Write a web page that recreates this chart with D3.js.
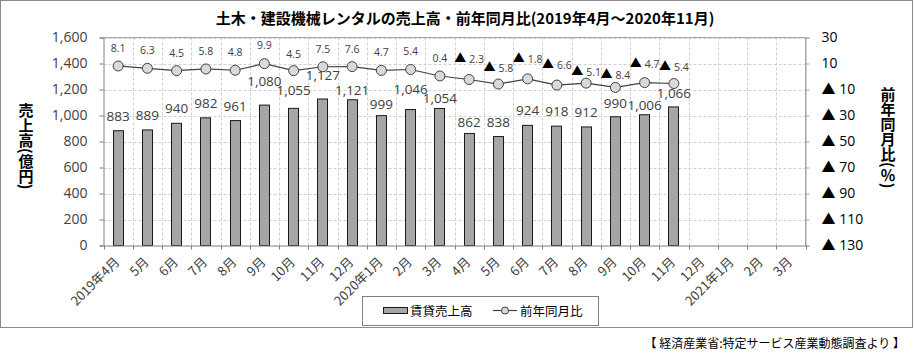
<!DOCTYPE html>
<html>
<head>
<meta charset="utf-8">
<script src="https://cdn.jsdelivr.net/npm/d3@7"></script>
<style>
  html, body { margin: 0; padding: 0; background: #fff; }
  svg { display: block; }
</style>
</head>
<body>
<svg id="chart" width="914" height="357"></svg>
<script>
// ---- data ----
const categories = ["2019年4月","5月","6月","7月","8月","9月","10月","11月","12月","2020年1月","2月","3月","4月","5月","6月","7月","8月","9月","10月","11月","12月","2021年1月","2月","3月"];
const salesValues = [883,889,940,982,961,1080,1055,1127,1121,999,1046,1054,862,838,924,918,912,990,1006,1066];
const yoyValues = [8.1,6.3,4.5,5.8,4.8,9.9,4.5,7.5,7.6,4.7,5.4,0.4,-2.3,-5.8,-1.8,-6.6,-5.1,-8.4,-4.7,-5.4];
const leftTicks = [0,200,400,600,800,1000,1200,1400,1600];
const rightTicks = [30,10,-10,-30,-50,-70,-90,-110,-130];
const titleText = "土木・建設機械レンタルの売上高・前年同月比(2019年4月～2020年11月)";
const leftTitle = "売上高(億円)";
const rightTitle = "前年同月比(％)";
const legendNames = ["賃貸売上高","前年同月比"];
const sourceText = "【 経済産業省:特定サービス産業動態調査より 】";

// ---- label nudges (style only) ----
const barLabelGap = [10,10,10,10,10,19,13,19,5,7,16,5,6,10,10,10,10,9,5,9];
const lineLabelGap = [14,14,14,14,14,15,13,14,14,14,14,14,16,12,16,16,7,8,15,13];

const svg = d3.select("#chart");
const M = {left: 103.5, right: 805.5, top: 37.5, bottom: 245.5};
const textColor = "#404040";
const numFont = "'Open Sans', 'Noto Sans CJK JP', sans-serif";
const jpFont = "'Noto Sans CJK JP', 'Noto Sans', sans-serif";

// outer border
svg.append("rect").attr("x",0.5).attr("y",0.5).attr("width",912).attr("height",327)
  .attr("fill","#fff").attr("stroke","#8c8c8c");

const x = d3.scaleBand().domain(categories.map((c,i)=>i)).range([M.left, M.right]).paddingInner(0).paddingOuter(0);
const y = d3.scaleLinear().domain([0,1600]).range([M.bottom, M.top]);
const y2 = d3.scaleLinear().domain([-130,30]).range([M.bottom, M.top]);

// gridlines horizontal
svg.append("g").selectAll("line").data(leftTicks.slice(1)).join("line")
  .attr("x1",M.left).attr("x2",M.right)
  .attr("y1",d=>Math.round(y(d))+0.5).attr("y2",d=>Math.round(y(d))+0.5)
  .attr("stroke","#d0d0d0").attr("stroke-dasharray","3,2");
// gridlines vertical at band boundaries
svg.append("g").selectAll("line").data(d3.range(1,categories.length)).join("line")
  .attr("x1",i=>Math.round(M.left + i*x.bandwidth())+0.5).attr("x2",i=>Math.round(M.left + i*x.bandwidth())+0.5)
  .attr("y1",M.top).attr("y2",M.bottom)
  .attr("stroke","#d0d0d0").attr("stroke-dasharray","3,2");

// plot border top & right
svg.append("path").attr("d",`M${M.left},${M.top}H${M.right}V${M.bottom}`)
  .attr("fill","none").attr("stroke","#a6a6a6");

// bars
const bw = 11;
svg.append("g").selectAll("rect").data(salesValues).join("rect")
  .attr("x",(d,i)=>Math.round(x(i)+x.bandwidth()/2-bw/2)+0.5)
  .attr("y",d=>y(d))
  .attr("width",bw-1)
  .attr("height",d=>M.bottom-y(d))
  .attr("fill","#a6a6a6").attr("stroke","#1a1a1a").attr("stroke-width",1);

// left axis
const leftAxis = d3.axisLeft(y).tickValues(leftTicks).tickSize(4).tickPadding(12)
  .tickFormat(d3.format(","));
const gl = svg.append("g").attr("transform",`translate(${M.left},0)`).call(leftAxis);
gl.select(".domain").attr("stroke","#808080");
gl.selectAll(".tick line").attr("stroke","#808080");
gl.selectAll("text").attr("fill",textColor).style("font-family",numFont).style("font-size","14px");

// right axis
const rightAxis = d3.axisRight(y2).tickValues(rightTicks).tickSize(4).tickPadding(12)
  .tickFormat(d=> d<0 ? "▲ "+(-d) : d);
const gr = svg.append("g").attr("transform",`translate(${M.right},0)`).call(rightAxis);
gr.select(".domain").attr("stroke","#a6a6a6");
gr.selectAll(".tick line").attr("stroke","#a6a6a6");
gr.selectAll("text").attr("fill","#000").style("font-family",numFont).style("font-size","14px");

// bottom axis
const bottomAxis = d3.axisBottom(x).tickSize(0).tickFormat(i=>categories[i]);
const gb = svg.append("g").attr("transform",`translate(0,${M.bottom})`).call(bottomAxis);
gb.select(".domain").attr("stroke","#808080");
gb.selectAll(".tick text")
  .attr("text-anchor","end")
  .attr("x",0).attr("y",0).attr("dy","0.35em")
  .attr("transform","translate(-1,14) rotate(-45)")
  .attr("fill",textColor).style("font-family",jpFont).style("font-size","13px");
// category tick marks at band boundaries
svg.append("g").selectAll("line").data(d3.range(0,categories.length+1)).join("line")
  .attr("x1",i=>Math.round(M.left + i*x.bandwidth())+0.5).attr("x2",i=>Math.round(M.left + i*x.bandwidth())+0.5)
  .attr("y1",M.bottom).attr("y2",M.bottom+4)
  .attr("stroke","#808080");

// line
const line = d3.line().x((d,i)=>x(i)+x.bandwidth()/2).y(d=>y2(d));
svg.append("path").datum(yoyValues).attr("d",line)
  .attr("fill","none").attr("stroke","#404040").attr("stroke-width",1.2);
svg.append("g").selectAll("circle").data(yoyValues).join("circle")
  .attr("cx",(d,i)=>x(i)+x.bandwidth()/2).attr("cy",d=>y2(d)).attr("r",5)
  .attr("fill","#d9d9d9").attr("stroke","#404040").attr("stroke-width",1);

// bar labels
svg.append("g").selectAll("text").data(salesValues).join("text")
  .attr("x",(d,i)=>x(i)+x.bandwidth()/2)
  .attr("y",(d,i)=>y(d)-barLabelGap[i])
  .attr("text-anchor","middle")
  .attr("fill",textColor).style("font-family",numFont).style("font-size","13.5px")
  .text(d=>d3.format(",")(d));

// line labels
svg.append("g").selectAll("text").data(yoyValues).join("text")
  .attr("x",(d,i)=>x(i)+x.bandwidth()/2)
  .attr("y",(d,i)=>y2(d)-lineLabelGap[i])
  .attr("text-anchor","middle")
  .attr("fill",textColor).style("font-family",numFont).style("font-size","10.5px")
  .text(d=> d<0 ? "▲ "+d3.format(".1f")(-d) : d3.format(".1f")(d))
  .each(function(d){
    if(d<0){
      const t = d3.select(this); const s = t.text().slice(2); t.text("");
      t.append("tspan").attr("fill","#000").style("font-size","12px").text("▲ ");
      t.append("tspan").text(s);
    }
  });

// title
svg.append("text").attr("x",465).attr("y",24).attr("text-anchor","middle")
  .attr("fill","#000").style("font-family",jpFont).style("font-weight","700").style("font-size","15px")
  .text(titleText);

// axis titles (vertical)
svg.append("text").attr("x",26).attr("y",103)
  .style("writing-mode","vertical-rl").attr("fill","#000")
  .style("font-family",jpFont).style("font-weight","700").style("font-size","15px")
  .text(leftTitle);
svg.append("text").attr("x",888).attr("y",87)
  .style("writing-mode","vertical-rl").attr("fill","#000")
  .style("font-family",jpFont).style("font-weight","700").style("font-size","15px")
  .text(rightTitle);

// legend
const lg = svg.append("g");
lg.append("rect").attr("x",362.5).attr("y",296.5).attr("width",236).attr("height",29)
  .attr("fill","#fff").attr("stroke","#808080");
lg.append("rect").attr("x",383.5).attr("y",307.5).attr("width",24).attr("height",6)
  .attr("fill","#a6a6a6").attr("stroke","#1a1a1a");
lg.append("text").attr("x",410).attr("y",315.5).attr("fill","#000")
  .style("font-family",jpFont).style("font-size","12.5px").text(legendNames[0]);
lg.append("line").attr("x1",493).attr("x2",517).attr("y1",310.5).attr("y2",310.5)
  .attr("stroke","#404040").attr("stroke-width",1.2);
lg.append("circle").attr("cx",505).attr("cy",310.5).attr("r",3.5)
  .attr("fill","#d9d9d9").attr("stroke","#404040");
lg.append("text").attr("x",520).attr("y",315.5).attr("fill","#000")
  .style("font-family",jpFont).style("font-size","12.5px").text(legendNames[1]);

// source
svg.append("text").attr("x",905).attr("y",348).attr("text-anchor","end").attr("fill","#000")
  .style("font-family",jpFont).style("font-size","12px").text(sourceText);
</script>
</body>
</html>
